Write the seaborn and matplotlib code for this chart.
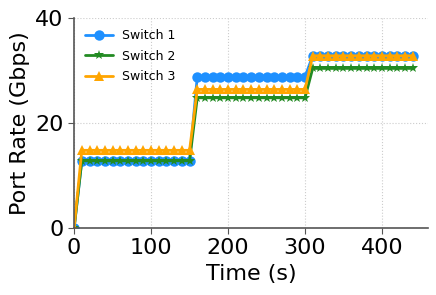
import numpy as np
import pandas as pd
import matplotlib
matplotlib.use("Agg")
import matplotlib.pyplot as plt
import seaborn as sns

# tiempo de muestreo (s)
time_s = [0, 10, 20, 30, 40, 50, 60, 70, 80, 90, 100, 110, 120, 130, 140, 150,
          160, 170, 180, 190, 200, 210, 220, 230, 240, 250, 260, 270, 280, 290, 300,
          310, 320, 330, 340, 350, 360, 370, 380, 390, 400, 410, 420, 430, 440]

switch1 = [0, 12.8, 12.8, 12.8, 12.8, 12.8, 12.8, 12.8, 12.8, 12.8, 12.8, 12.8, 12.8, 12.8, 12.8, 12.8,
           28.8, 28.8, 28.8, 28.8, 28.8, 28.8, 28.8, 28.8, 28.8, 28.8, 28.8, 28.8, 28.8, 28.8, 28.8,
           32.8, 32.8, 32.8, 32.8, 32.8, 32.8, 32.8, 32.8, 32.8, 32.8, 32.8, 32.8, 32.8, 32.8]
switch2 = [0, 12.8, 12.8, 12.8, 12.8, 12.8, 12.8, 12.8, 12.8, 12.8, 12.8, 12.8, 12.8, 12.8, 12.8, 12.8,
           24.8, 24.8, 24.8, 24.8, 24.8, 24.8, 24.8, 24.8, 24.8, 24.8, 24.8, 24.8, 24.8, 24.8, 24.8,
           30.4, 30.4, 30.4, 30.4, 30.4, 30.4, 30.4, 30.4, 30.4, 30.4, 30.4, 30.4, 30.4, 30.4]
switch3 = [0, 14.8, 14.8, 14.8, 14.8, 14.8, 14.8, 14.8, 14.8, 14.8, 14.8, 14.8, 14.8, 14.8, 14.8, 14.8,
           26.4, 26.4, 26.4, 26.4, 26.4, 26.4, 26.4, 26.4, 26.4, 26.4, 26.4, 26.4, 26.4, 26.4, 26.4,
           32.8, 32.8, 32.8, 32.8, 32.8, 32.8, 32.8, 32.8, 32.8, 32.8, 32.8, 32.8, 32.8, 32.8]

series_names = ["Switch 1", "Switch 2", "Switch 3"]
colores = ["#1E90FF", "#228B22", "#FFA500"]
marcadores = ["o", "*", "^"]

df = pd.DataFrame({
    "Time": time_s * 3,
    "Rate": switch1 + switch2 + switch3,
    "Switch": [s for s in series_names for _ in time_s],
})

sns.set_style("whitegrid", {"grid.linestyle": ":", "grid.color": "#cccccc",
                            "axes.edgecolor": "#555555", "text.color": "black",
                            "axes.labelcolor": "black", "xtick.color": "black",
                            "ytick.color": "black"})
plt.rcParams["font.family"] = ["DejaVu Sans"]

fig, ax = plt.subplots(figsize=(4.36, 2.95), dpi=100)
for nombre, col, mk in zip(series_names, colores, marcadores):
    sub = df[df["Switch"] == nombre]
    sns.lineplot(data=sub, x="Time", y="Rate", ax=ax, color=col, marker=mk,
                 markersize=7.5, markeredgewidth=0, linewidth=2, label=nombre)

ax.set_xlim(0, 460)
ax.set_ylim(0, 40)
ax.set_xticks([0, 100, 200, 300, 400])
ax.set_yticks([0, 20, 40])
ax.tick_params(axis="both", labelsize=16, length=4, color="#555555",
               labelcolor="black", left=True, bottom=True)
ax.set_xlabel("Time (s)", fontsize=16, color="black")
ax.set_ylabel("Port Rate (Gbps)", fontsize=16, color="black")
for lado in ["top", "right"]:
    ax.spines[lado].set_visible(False)
for lado in ["left", "bottom"]:
    ax.spines[lado].set_linewidth(1.2)
leg = ax.legend(loc="upper left", frameon=False, fontsize=9, handlelength=2.2,
                handletextpad=0.7, labelspacing=0.6)
for t in leg.get_texts():
    t.set_color("black")

fig.subplots_adjust(left=0.170, right=0.982, top=0.939, bottom=0.227)
fig.savefig("out.png", dpi=100)
